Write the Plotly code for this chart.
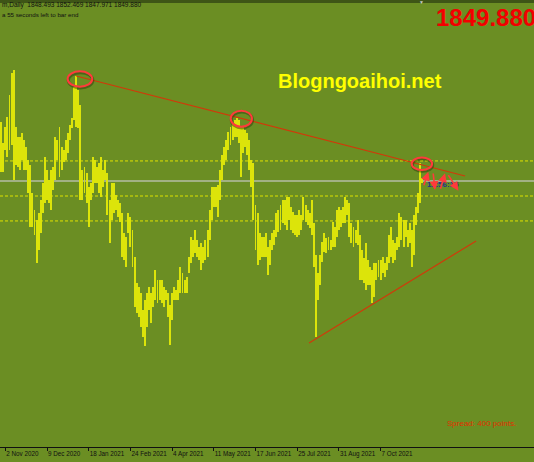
import plotly.graph_objects as go

# ---------------- data ----------------
TICK_LABELS = ["2 Nov 2020", "9 Dec 2020", "18 Jan 2021", "24 Feb 2021", "4 Apr 2021",
               "11 May 2021", "17 Jun 2021", "25 Jul 2021", "31 Aug 2021", "7 Oct 2021"]
TICK_BARS = [2, 22, 42, 62, 82, 102, 122, 142, 162, 182]

HIGH = [
    1911.8, 1889.8, 1906.6, 1917.1, 1940.2, 1963.3, 1966.4, 1906.6, 1896.1, 1896.1,
    1900.3, 1892.9, 1885.6, 1871.9, 1866.7, 1837.3, 1819.4, 1808.9, 1816.3, 1829.9,
    1847.8, 1875.1, 1861.4, 1850.9, 1861.4, 1864.6, 1896.1, 1892.9, 1906.6, 1885.6,
    1882.4, 1892.9, 1900.3, 1908.7, 1916.0, 1948.6, 1960.1, 1945.4, 1929.7, 1861.4,
    1864.6, 1858.3, 1843.6, 1847.8, 1875.1, 1871.9, 1864.6, 1868.8, 1875.1, 1861.4,
    1871.9, 1858.3, 1829.9, 1847.8, 1847.8, 1835.2, 1829.9, 1826.8, 1816.3, 1795.3,
    1791.1, 1816.3, 1812.1, 1798.4, 1770.1, 1742.8, 1738.6, 1732.3, 1714.4, 1724.9,
    1732.3, 1738.6, 1732.3, 1738.6, 1756.4, 1745.9, 1745.9, 1745.9, 1738.6, 1735.4,
    1732.3, 1719.7, 1732.3, 1738.6, 1735.4, 1745.9, 1759.6, 1753.3, 1745.9, 1749.1,
    1770.1, 1791.1, 1787.9, 1798.4, 1787.9, 1780.6, 1784.8, 1780.6, 1787.9, 1798.4,
    1819.4, 1843.6, 1843.6, 1843.6, 1845.7, 1861.4, 1877.2, 1885.6, 1892.9, 1901.3,
    1906.6, 1910.8, 1913.9, 1916.0, 1913.9, 1906.6, 1906.6, 1903.4, 1900.3, 1892.9,
    1871.9, 1868.8, 1824.7, 1816.3, 1795.3, 1791.1, 1791.1, 1795.3, 1780.6, 1787.9,
    1795.3, 1798.4, 1816.3, 1819.4, 1824.7, 1829.9, 1829.9, 1833.1, 1833.1, 1822.6,
    1817.3, 1814.2, 1814.2, 1819.4, 1814.2, 1833.1, 1824.7, 1819.4, 1816.3, 1829.9,
    1805.8, 1772.2, 1753.3, 1772.2, 1785.8, 1795.3, 1790.0, 1791.1, 1787.9, 1806.8,
    1801.6, 1819.4, 1822.6, 1819.4, 1822.6, 1833.1, 1829.9, 1826.8, 1805.8, 1801.6,
    1798.4, 1808.9, 1793.2, 1777.4, 1769.0, 1784.8, 1766.9, 1759.6, 1756.4, 1763.8,
    1763.8, 1766.9, 1766.9, 1770.1, 1763.8, 1770.1, 1793.2, 1801.6, 1787.9, 1784.8,
    1791.1, 1816.3, 1812.1, 1808.9, 1808.9, 1798.4, 1805.8, 1798.4, 1814.2, 1822.6,
    1837.3, 1868.8, 1852.5]

LOW = [
    1859.3, 1859.3, 1882.4, 1875.1, 1882.4, 1887.7, 1850.9, 1866.7, 1864.6, 1861.4,
    1871.9, 1861.4, 1861.4, 1837.3, 1801.6, 1801.6, 1793.2, 1763.8, 1777.4, 1795.3,
    1816.3, 1826.8, 1829.9, 1826.8, 1819.4, 1840.4, 1850.9, 1871.9, 1854.1, 1861.4,
    1869.8, 1871.9, 1879.3, 1892.9, 1905.5, 1913.9, 1906.6, 1905.5, 1829.9, 1829.9,
    1837.3, 1826.8, 1801.6, 1829.9, 1837.3, 1847.8, 1847.8, 1837.3, 1833.1, 1843.6,
    1850.9, 1814.2, 1784.8, 1808.9, 1816.3, 1819.4, 1812.1, 1806.8, 1770.1, 1766.9,
    1759.6, 1795.3, 1780.6, 1759.6, 1717.6, 1711.3, 1707.1, 1696.6, 1686.1, 1676.6,
    1696.6, 1714.4, 1700.8, 1717.6, 1724.9, 1721.8, 1724.9, 1721.8, 1717.6, 1724.9,
    1707.1, 1677.7, 1703.9, 1724.9, 1724.9, 1724.9, 1732.3, 1732.3, 1732.3, 1732.3,
    1753.3, 1763.8, 1770.1, 1774.3, 1770.1, 1766.9, 1756.4, 1763.8, 1766.9, 1770.1,
    1787.9, 1808.9, 1822.6, 1822.6, 1812.1, 1829.9, 1850.9, 1866.7, 1871.9, 1882.4,
    1887.7, 1892.9, 1896.1, 1896.1, 1889.8, 1854.1, 1879.3, 1885.6, 1877.2, 1861.4,
    1843.6, 1808.9, 1777.4, 1761.7, 1766.9, 1770.1, 1770.1, 1770.1, 1751.2, 1761.7,
    1777.4, 1782.7, 1791.1, 1796.3, 1798.4, 1805.8, 1803.7, 1798.4, 1808.9, 1798.4,
    1795.3, 1793.2, 1791.1, 1793.2, 1798.4, 1808.9, 1806.8, 1803.7, 1800.5, 1793.2,
    1759.6, 1686.1, 1724.9, 1740.7, 1764.8, 1775.3, 1774.3, 1777.4, 1777.4, 1780.6,
    1780.6, 1791.1, 1798.4, 1801.6, 1805.8, 1805.8, 1814.2, 1791.1, 1784.8, 1780.6,
    1784.8, 1782.7, 1745.9, 1745.9, 1742.8, 1735.4, 1740.7, 1740.7, 1721.8, 1728.1,
    1745.9, 1749.1, 1745.9, 1753.3, 1749.1, 1756.4, 1763.8, 1770.1, 1763.8, 1766.9,
    1777.4, 1780.6, 1787.9, 1780.6, 1791.1, 1780.6, 1784.8, 1759.6, 1772.2, 1803.7,
    1816.3, 1826.8, 1848.0]

BID = 1849.88
DOTTED_LEVELS = [1870.9, 1834.1, 1807.9]
UPPER_TREND = [(36.0, 1960.1), (222.5, 1855.1)]
LOWER_TREND = [(147.7, 1679.8), (227.8, 1786.9)]
ELLIPSES = [(31.9, 43.7, 1948.9, 1965.0), (110.1, 120.3, 1906.9, 1923.7), (196.9, 206.7, 1861.4, 1874.5)]
ARROWS = [(204.9, 1859.6, -5, 15), (208.1, 1840.4, -2, -18), (212.9, 1858.0, -5, 17), (219.3, 1839.7, -11, -17)]

HEADER1 = "m,Daily  1848.493 1852.469 1847.971 1849.880"
HEADER2 = "a 55 seconds left to bar end"
WATERMARK = "Blogngoaihoi.net"
BIG_PRICE = "1849.880"
SPREAD = "Spread: 400 points."
TIMER = "11:56:15"

# ---------------- figure ----------------
W, H = 534, 462
MT, MB = 3, 15
PLOT_H = H - MT - MB
BG = "#6b8e23"
BAR_C = "#dce40a"


def paper(px, py):
    return px / W, (H - MB - py) / PLOT_H


idx = list(range(len(HIGH)))
fig = go.Figure()
fig.add_trace(go.Bar(x=idx, y=[h - l for h, l in zip(HIGH, LOW)], base=LOW, width=0.45,
                     marker=dict(color=BAR_C, line=dict(width=0)), hoverinfo="skip"))

shapes = []
shapes.append(dict(type="rect", xref="paper", yref="paper", x0=0, x1=1, y0=1, y1=1 + MT / PLOT_H,
                   fillcolor="#3e5516", line=dict(width=0), layer="above"))
for lv in DOTTED_LEVELS:
    shapes.append(dict(type="line", xref="paper", yref="y", x0=0, x1=1, y0=lv, y1=lv,
                       line=dict(color="#dfe200", width=1, dash="3px,2px"), layer="below"))
shapes.append(dict(type="line", xref="paper", yref="y", x0=0, x1=1, y0=BID, y1=BID,
                   line=dict(color="#b5bda5", width=1.6), layer="below"))
for (xa, ya), (xb, yb) in [UPPER_TREND, LOWER_TREND]:
    shapes.append(dict(type="line", xref="x", yref="y", x0=xa, y0=ya, x1=xb, y1=yb,
                       line=dict(color="#d03a0a", width=1.2)))
for x0, x1, y0, y1 in ELLIPSES:
    shapes.append(dict(type="circle", xref="x", yref="y", x0=x0 + 0.3, x1=x1 + 0.3, y0=y0 - 1.4, y1=y1 - 1.4,
                       line=dict(color="rgba(40,50,10,0.45)", width=3)))
    shapes.append(dict(type="circle", xref="x", yref="y", x0=x0, x1=x1, y0=y0, y1=y1,
                       line=dict(color="#ff3b3b", width=2)))

ann = []
x, y = paper(0, 5.5)
ann.append(dict(xref="paper", yref="paper", x=x, y=y, xanchor="left", yanchor="middle", showarrow=False,
                text=HEADER1, font=dict(family="Liberation Sans", size=6.5, color="#111111")))
x, y = paper(0, 14.5)
ann.append(dict(xref="paper", yref="paper", x=x, y=y, xanchor="left", yanchor="middle", showarrow=False,
                text=HEADER2, font=dict(family="Liberation Sans", size=6.2, color="#111111")))
x, y = paper(421, 2.5)
ann.append(dict(xref="paper", yref="paper", x=x, y=y, xanchor="center", yanchor="middle", showarrow=False,
                text="▼", font=dict(size=5, color="#c8c8c8")))
x, y = paper(434, 18)
ann.append(dict(xref="paper", yref="paper", x=x, y=y, xanchor="left", yanchor="middle", showarrow=False,
                text="<b>" + BIG_PRICE + "</b>", font=dict(family="Liberation Sans", size=24, color="#f20000")))
x, y = paper(360, 81)
ann.append(dict(xref="paper", yref="paper", x=x, y=y, xanchor="center", yanchor="middle", showarrow=False,
                text="<b>" + WATERMARK + "</b>", font=dict(family="Liberation Sans", size=20, color="#ffff00")))
x, y = paper(445, 423)
ann.append(dict(xref="paper", yref="paper", x=x, y=y, xanchor="left", yanchor="middle", showarrow=False,
                text=SPREAD, font=dict(family="Liberation Sans", size=8, color="#e03000")))
x, y = paper(425, 184)
ann.append(dict(xref="paper", yref="paper", x=x, y=y, xanchor="left", yanchor="middle", showarrow=False,
                text="<b>" + TIMER + "</b>", font=dict(family="Liberation Sans", size=8, color="#25308a")))
for hx, hy, ax, ay in ARROWS:
    ann.append(dict(xref="x", yref="y", x=hx, y=hy, ax=ax, ay=ay, text="", showarrow=True,
                    arrowhead=2, arrowsize=1.1, arrowwidth=1.6, arrowcolor="#ff3a3a"))

fig.update_layout(
    width=W, height=H, autosize=False,
    margin=dict(l=0, r=0, t=MT, b=MB, pad=0),
    paper_bgcolor=BG, plot_bgcolor=BG,
    showlegend=False, bargap=0,
    shapes=shapes, annotations=ann,
    xaxis=dict(range=[-0.54, 255.57], showgrid=False, zeroline=False,
               tickmode="array", tickvals=TICK_BARS, ticktext=TICK_LABELS,
               ticks="outside", ticklen=3, tickcolor="#111111", tickwidth=1,
               ticklabelposition="outside right", tickangle=0,
               showline=True, linecolor="#111111", linewidth=1,
               tickfont=dict(family="Liberation Sans", size=6.3, color="#111111")),
    yaxis=dict(range=[1570.55, 2036.75], visible=False, showgrid=False, zeroline=False),
)

fig.write_html("out.html", config={"displayModeBar": False},
               post_script="document.body.style.margin='0';document.body.style.padding='0';"
                           "document.body.style.overflow='hidden';")
